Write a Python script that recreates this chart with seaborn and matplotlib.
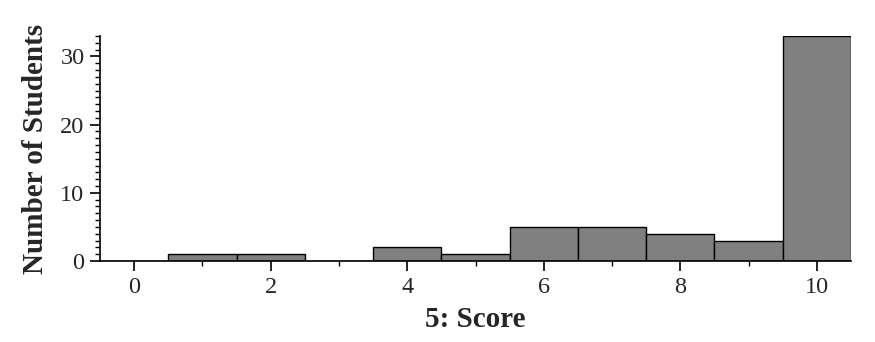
import numpy as np
import pandas as pd
import matplotlib
matplotlib.use("Agg")
import matplotlib.pyplot as plt
from matplotlib.ticker import MultipleLocator
import seaborn as sns

scores = [0, 1, 2, 3, 4, 5, 6, 7, 8, 9, 10]
students = [0, 1, 1, 0, 2, 1, 5, 5, 4, 3, 33]

sns.set_style("ticks")
plt.rcParams['font.family'] = ['Liberation Serif', 'DejaVu Serif']

df = pd.DataFrame({"score": scores, "count": students})

fig = plt.figure(figsize=(8.75, 3.42), dpi=100)
ax = fig.add_axes([0.1143, 0.2368, 0.8583, 0.658])
sns.histplot(data=df, x="score", weights="count", binwidth=1, binrange=(-0.5, 10.5),
             color="#808080", edgecolor="black", linewidth=1.0, alpha=1.0, ax=ax)

ax.set_xlim(-0.5, 10.5)
ax.set_ylim(0, 33)
ax.xaxis.set_major_locator(MultipleLocator(2))
ax.xaxis.set_minor_locator(MultipleLocator(1))
ax.yaxis.set_major_locator(MultipleLocator(10))
ax.yaxis.set_minor_locator(MultipleLocator(1))
ax.tick_params(axis="both", which="major", length=7.2, width=1.2, labelsize=17.5,
               color="black", pad=4)
ax.tick_params(axis="both", which="minor", length=3.6, width=1.0, color="black")
for s in ["top", "right"]:
    ax.spines[s].set_visible(False)
for s in ["left", "bottom"]:
    ax.spines[s].set_linewidth(1.2)
    ax.spines[s].set_color("black")
ax.set_xlabel("5: Score", fontsize=21, fontweight="bold", labelpad=6)
ax.set_ylabel("Number of Students", fontsize=21, fontweight="bold", labelpad=8)
fig.savefig("out.png", dpi=100)
